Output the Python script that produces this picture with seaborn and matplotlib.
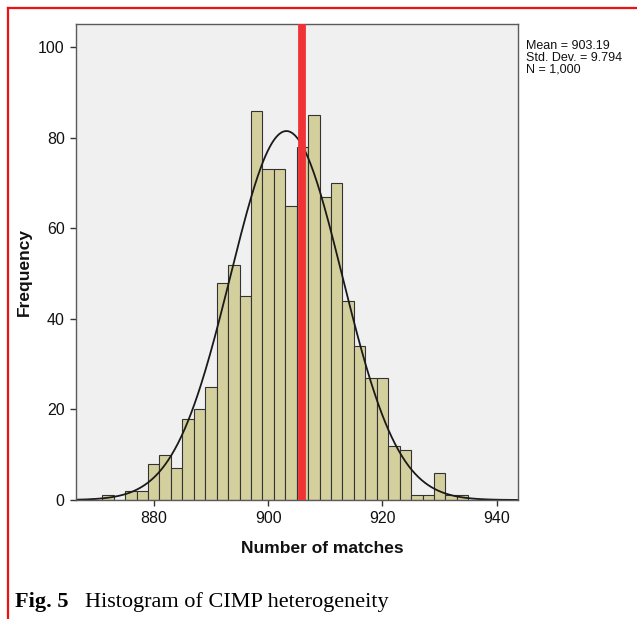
import numpy as np
import pandas as pd
import matplotlib
matplotlib.use('Agg')
import matplotlib.pyplot as plt
import seaborn as sns
from matplotlib.lines import Line2D

# Bin centres (bin width 2) and the frequency
bin_centers = [872, 874, 876, 878, 880, 882, 884, 886, 888, 890, 892, 894, 896, 898, 900, 902,
               904, 906, 908, 910, 912, 914, 916, 918, 920, 922, 924, 926, 928, 930, 932, 934]
frequencies = [1, 0, 2, 2, 8, 10, 7, 18, 20, 25, 48, 52, 45, 86, 73, 73,
               65, 78, 85, 67, 70, 44, 34, 27, 27, 12, 11, 1, 1, 6, 1, 1]

# Summary statistics shown on the chart
stat_mean = 903.19
stat_sd = 9.794
stat_n = 1000
observed_value = 906

x_ticks = [880, 900, 920, 940]
y_ticks = [0, 20, 40, 60, 80, 100]

hist_df = pd.DataFrame({'matches': bin_centers, 'freq': frequencies})

plt.rcParams['font.family'] = ['Liberation Sans', 'DejaVu Sans']

fig = plt.figure(figsize=(6.37, 6.19), dpi=100, facecolor='w')
ax = fig.add_axes([0.1193, 0.1922, 0.6939, 0.769])
ax.set_facecolor('#F0F0F0')

bin_width = 2
sns.histplot(
    ax=ax, data=hist_df, x='matches', weights='freq', binwidth=bin_width,
    binrange=(bin_centers[0] - 1, bin_centers[-1] + 1), color='#D4D09E', alpha=1,
    edgecolor='#333333', linewidth=0.8
)

# Fitted normal curve from the summary stats
x_curve = np.linspace(866.4, 943.7, 400)
y_curve = stat_n * bin_width / (stat_sd * np.sqrt(2 * np.pi)) * np.exp(-0.5 * ((x_curve - stat_mean) / stat_sd) ** 2)
sns.lineplot(ax=ax, x=x_curve, y=y_curve, color='#1a1a1a', linewidth=1.3)

ax.axvline(observed_value, color='#F03236', linewidth=5.6, zorder=5)

ax.set_xlim(866.4, 943.7)
ax.set_ylim(0, 105.1)
ax.set_xticks(x_ticks)
ax.set_yticks(y_ticks)
ax.tick_params(axis='both', direction='out', length=4.5, width=1, color='#333333',
               labelsize=11.5, pad=3.6, labelcolor='#111111')
for side in ['left', 'right', 'top', 'bottom']:
    ax.spines[side].set_color('#5a5a5a')
    ax.spines[side].set_linewidth(1)

ax.set_xlabel('Number of matches', fontweight='bold', fontsize=12.5, color='#111111')
ax.xaxis.set_label_coords(0.5566, -0.1008)
ax.xaxis.label.set_verticalalignment('center')
ax.set_ylabel('Frequency', fontweight='bold', fontsize=12.5, color='#111111')
ax.yaxis.set_label_coords(-0.1176, 0.479)
ax.yaxis.label.set_verticalalignment('center')

stats_text = 'Mean = {:.2f}\nStd. Dev. = {:.3f}\nN = {:,}'.format(stat_mean, stat_sd, stat_n)
fig.text(526 / 637, 1 - 40 / 619, stats_text, fontsize=9, va='top', ha='left',
         linespacing=1.0, color='#111111')

# Caption below the chart
fig.text(15 / 637, 1 - 607.5 / 619, 'Fig. 5', family=['Liberation Serif', 'DejaVu Serif'],
         fontweight='bold', fontsize=16, va='baseline', ha='left')
fig.text(85 / 637, 1 - 607.5 / 619, 'Histogram of CIMP heterogeneity', family=['Liberation Serif', 'DejaVu Serif'],
         fontsize=16, va='baseline', ha='left')

# Red frame around the figure (top and left edges visible)
fig.add_artist(Line2D([8 / 637, 1.0], [1 - 8 / 619, 1 - 8 / 619], transform=fig.transFigure,
                      color='#EE1111', linewidth=1.6))
fig.add_artist(Line2D([8 / 637, 8 / 637], [0.0, 1 - 8 / 619], transform=fig.transFigure,
                      color='#EE1111', linewidth=1.6))

plt.savefig('out.png', dpi=100)
